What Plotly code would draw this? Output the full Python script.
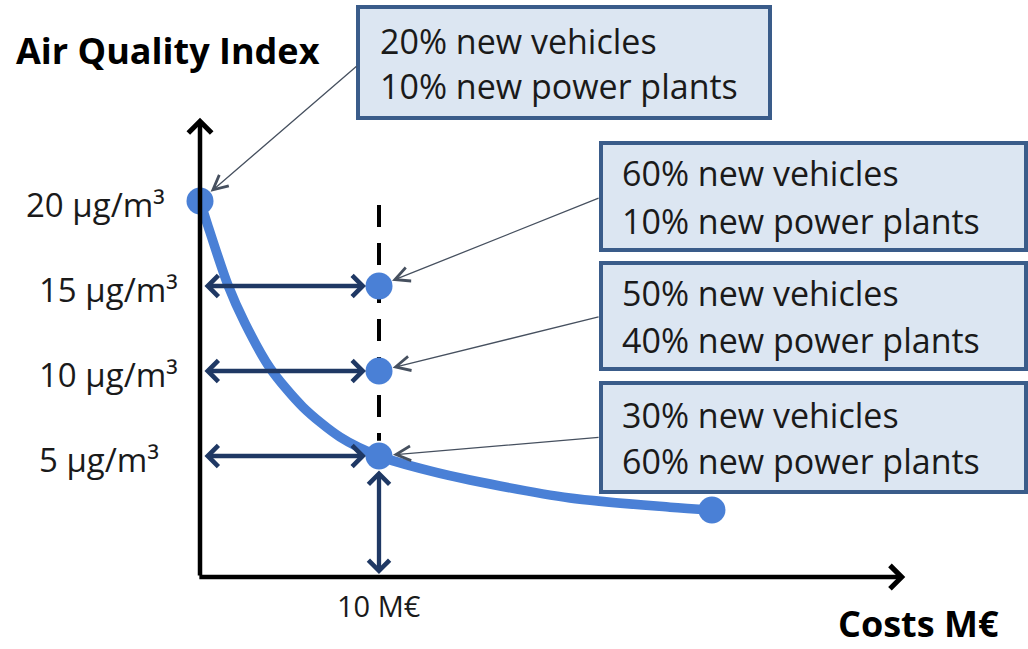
import plotly.graph_objects as go

# ---------------- data ----------------
curve_cost = [0, 0.39, 1.56, 2.51, 3.91, 5.75, 7.82, 10.0, 12.85, 15.08, 20.67, 26.26, 28.6]
curve_aqi = [20, 18.71, 15.06, 12.82, 10.18, 7.88, 6.12, 5.0, 4.12, 3.59, 2.53, 1.99, 1.82]

dot_cost = [0, 10, 10, 10, 28.6]
dot_aqi = [20, 15, 10, 5, 1.82]

tick_values = [20, 15, 10, 5]
tick_labels = ["20 µg/m³", "15 µg/m³", "10 µg/m³", "5 µg/m³"]

budget_cost = 10
budget_label = "10 M€"

scenario_lines = [
    ["20% new vehicles", "10% new power plants"],
    ["60% new vehicles", "10% new power plants"],
    ["50% new vehicles", "40% new power plants"],
    ["30% new vehicles", "60% new power plants"],
]
scenario_targets = [(0, 20), (10, 15), (10, 10), (10, 5)]
pointer_tails = [(8.83, 28.0), (22.35, 20.2), (22.35, 13.2), (22.35, 6.1)]

axis_origin_y = -2.12
axis_x_end = 39.4
axis_y_end = 24.9
dash_top = 19.76

x_title = "Costs M€"
y_title = "Air Quality Index"

# ---------------- layout helpers ----------------
W, H = 1028, 649
PX_X = 17.9   # px per M€
PX_Y = 17.0   # px per µg/m³
X0_PX, Y5_PX = 200, 456
x_range = [-X0_PX / PX_X, (W - X0_PX) / PX_X]
y_range = [5 - (H - Y5_PX) / PX_Y, 5 + Y5_PX / PX_Y]

BLUE = "rgb(74,128,214)"
NAVY = "rgb(31,56,100)"
BOX_FILL = "rgb(220,230,242)"
BOX_LINE = "rgb(58,92,138)"
PTR = "rgb(70,80,95)"
FONT = "Open Sans"
TXT = "#1a1a1a"

fig = go.Figure()

# dashed budget line
fig.add_trace(go.Scatter(
    x=[budget_cost, budget_cost], y=[dash_top, dot_aqi[3] + 0.9],
    mode="lines", line=dict(color="black", width=4, dash="22px,16px"),
    hoverinfo="skip", showlegend=False))

annotations = []

# axes
annotations.append(dict(x=0, y=axis_y_end, ax=0, ay=axis_origin_y,
                        xref="x", yref="y", axref="x", ayref="y", text="",
                        showarrow=True, arrowhead=4, arrowsize=1.0, arrowwidth=4.5,
                        arrowcolor="black"))
annotations.append(dict(x=axis_x_end, y=axis_origin_y, ax=-0.12, ay=axis_origin_y,
                        xref="x", yref="y", axref="x", ayref="y", text="",
                        showarrow=True, arrowhead=4, arrowsize=1.0, arrowwidth=4.5,
                        arrowcolor="black"))

# navy double arrows
for v in tick_values[1:]:
    annotations.append(dict(x=budget_cost, y=v, ax=0, ay=v,
                            xref="x", yref="y", axref="x", ayref="y", text="",
                            showarrow=True, arrowhead=4, startarrowhead=4,
                            arrowside="end+start", arrowsize=0.95, startarrowsize=0.95,
                            arrowwidth=4.3, arrowcolor=NAVY, standoff=13, startstandoff=3))
annotations.append(dict(x=budget_cost, y=axis_origin_y, ax=budget_cost, ay=5,
                        xref="x", yref="y", axref="x", ayref="y", text="",
                        showarrow=True, arrowhead=4, startarrowhead=4,
                        arrowside="end+start", arrowsize=0.95, startarrowsize=0.95,
                        arrowwidth=4.3, arrowcolor=NAVY, standoff=3, startstandoff=13))

# curve and dots
fig.add_trace(go.Scatter(x=curve_cost, y=curve_aqi, mode="lines",
                         line=dict(color=BLUE, width=9.5, shape="spline", smoothing=0.8),
                         hoverinfo="skip", showlegend=False))
fig.add_trace(go.Scatter(x=dot_cost, y=dot_aqi, mode="markers",
                         marker=dict(color=BLUE, size=27),
                         hoverinfo="skip", showlegend=False))

# scenario boxes (pixel layout)
boxes_px = [(358, 7, 770, 118), (601, 143, 1026, 250), (601, 263, 1026, 369), (601, 383, 1026, 492)]
text_left_px = [378, 620, 620, 620]
line_centers_px = [(42, 87), (174, 222), (294, 341), (416, 462)]
shapes = []
for (x0, y0, x1, y1) in boxes_px:
    shapes.append(dict(type="rect", xref="paper", yref="paper",
                       x0=x0 / W, x1=x1 / W, y0=1 - y1 / H, y1=1 - y0 / H,
                       fillcolor=BOX_FILL, line=dict(color=BOX_LINE, width=4), layer="above"))

for lines, lx, centers in zip(scenario_lines, text_left_px, line_centers_px):
    for t, cy in zip(lines, centers):
        annotations.append(dict(x=lx / W, y=1 - cy / H, xref="paper", yref="paper",
                                text=t, showarrow=False, xanchor="left", yanchor="middle",
                                yshift=1, font=dict(family=FONT, size=34, color=TXT)))

# pointers
for (tx, ty), (px_, py_) in zip(scenario_targets, pointer_tails):
    annotations.append(dict(x=tx, y=ty, ax=px_, ay=py_,
                            xref="x", yref="y", axref="x", ayref="y", text="",
                            showarrow=True, arrowhead=5, arrowsize=2.2, arrowwidth=1.3,
                            arrowcolor=PTR, standoff=14))

# tick labels
tick_left_px = [24, 37, 37, 37]
for v, lab, lx in zip(tick_values, tick_labels, tick_left_px):
    annotations.append(dict(x=lx / W, y=v, xref="paper", yref="y", text=lab,
                            showarrow=False, xanchor="left", yanchor="middle", yshift=-3,
                            font=dict(family=FONT, size=33, color=TXT)))

annotations.append(dict(x=budget_cost, y=axis_origin_y, xref="x", yref="y", text=budget_label,
                        showarrow=False, xanchor="center", yanchor="top", yshift=-7,
                        font=dict(family=FONT, size=29, color=TXT)))

annotations.append(dict(x=14 / W, y=1 - 50 / H, xref="paper", yref="paper", text=f"<b>{y_title}</b>",
                        showarrow=False, xanchor="left", yanchor="middle",
                        font=dict(family=FONT, size=36, color="black")))
annotations.append(dict(x=1001 / W, y=1 - 623 / H, xref="paper", yref="paper", text=f"<b>{x_title}</b>",
                        showarrow=False, xanchor="right", yanchor="middle",
                        font=dict(family=FONT, size=36, color="black")))

fig.update_layout(
    width=W, height=H, margin=dict(l=0, r=0, t=0, b=0),
    paper_bgcolor="white", plot_bgcolor="white",
    xaxis=dict(range=x_range, visible=False, fixedrange=True),
    yaxis=dict(range=y_range, visible=False, fixedrange=True),
    shapes=shapes, annotations=annotations, showlegend=False,
)

fig.write_html("out.html", config={"displayModeBar": False},
               post_script="document.body.style.margin='0';document.body.style.overflow='hidden';")
